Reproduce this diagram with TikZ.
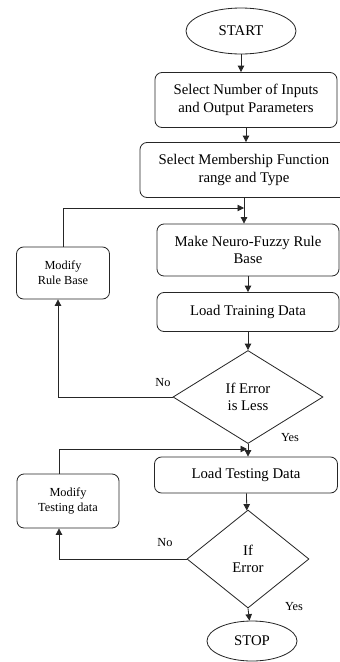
\documentclass[tikz,border=0pt]{standalone}
\usepackage{fontspec}
\setmainfont{Liberation Serif}
\usetikzlibrary{shapes.geometric,arrows.meta}
\tikzset{
  box/.style={draw,rounded corners=6pt,align=center,font=\fontsize{12.6}{15}\selectfont,inner sep=0pt},
  sbox/.style={box,font=\fontsize{10.5}{13}\selectfont},
  term/.style={draw,ellipse,inner sep=0pt,font=\fontsize{12.6}{15}\selectfont},
  dec/.style={draw,diamond,inner sep=0pt,align=center,font=\fontsize{12.6}{15}\selectfont},
  lbl/.style={font=\fontsize{10.5}{13}\selectfont,inner sep=0pt}
}
\begin{document}
\begin{tikzpicture}[x=0.03cm,y=-0.03cm,line width=0.7pt,draw=black!85,>={Triangle[width=5.5pt,length=5.5pt]}]
        \useasboundingbox (0,0) rectangle (340,662);
        \node[term,minimum width=3.3cm,minimum height=1.38cm](start) at (241,31){START};
        \node[box,minimum width=5.46cm,minimum height=1.65cm](sel1) at (246,100){Select Number of Inputs\\and Output Parameters};
        \node[box,minimum width=6.24cm,minimum height=1.65cm](sel2) at (244,170){Select Membership Function\\range and Type};
        \node[box,minimum width=5.46cm,minimum height=1.56cm](make) at (248,250){Make Neuro-Fuzzy Rule\\Base};
        \node[box,minimum width=5.46cm,minimum height=1.17cm](load) at (248,312){Load Training Data};
        \node[sbox,minimum width=2.79cm,minimum height=1.56cm](modr) at (63,273){Modify\\Rule Base};
        \node[dec,minimum width=4.5cm,minimum height=2.79cm](dec1) at (248,397){If Error\\is Less};
        \node[box,minimum width=5.49cm,minimum height=1.08cm](test) at (246,475){Load Testing Data};
        \node[sbox,minimum width=3.06cm,minimum height=1.62cm](modt) at (68,501){Modify\\Testing data};
        \node[dec,minimum width=3.66cm,minimum height=2.94cm](dec2) at (248,559){If\\Error};
        \node[term,minimum width=2.7cm,minimum height=1.2cm](stop) at (252,641){STOP};
        \node[lbl](no1) at (163,383){No};
        \node[lbl](yes1) at (290,438){Yes};
        \node[lbl](no2) at (165,543){No};
        \node[lbl](yes2) at (294,607){Yes};
        \coordinate (j1) at (244,208);
        \coordinate (j2) at (247,449);
        \draw[->](start)--(start|-sel1.north);
        \draw[->](sel1)--(sel1|-sel2.north);
        \draw[->](sel2)--(sel2|-make.north);
        \draw[->](modr.north)|-(j1);
        \draw[->](make)--(make|-load.north);
        \draw[->](load)--(dec1);
        \draw[->](dec1.west)-|([xshift=-0.15cm]modr.south);
        \draw[->](dec1.south)--(dec1|-test.north);
        \draw[->]([xshift=-0.27cm]modt.north)|-(j2);
        \draw[->](test)--(dec2);
        \draw[->](dec2.west)-|([xshift=-0.27cm]modt.south);
        \draw[->](dec2.south)--(stop);
    \end{tikzpicture}
\end{document}
